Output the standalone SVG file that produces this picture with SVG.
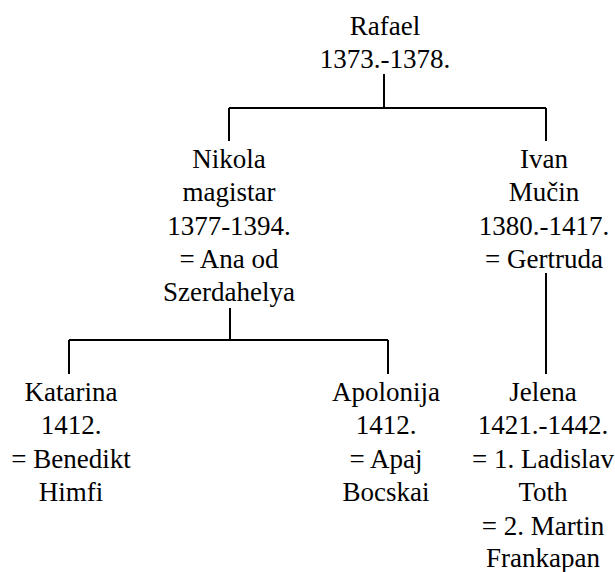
<svg xmlns="http://www.w3.org/2000/svg" width="615" height="572" viewBox="0 0 615 572">
<rect width="615" height="572" fill="#fff"/>
<g id="connectors" stroke="#000" stroke-width="2" fill="none">
<path d="M384,74V108M229,108H546M229,108V141M546,108V141"/>
<path d="M230,308V340M69,340H388M69,340V374M388,340V374"/>
<path d="M546,273V374"/>
</g>
<g id="rafael"><text x="385" y="35" font-size="27" font-family="Liberation Serif" text-anchor="middle">Rafael</text><text x="385" y="68.3" font-size="27" font-family="Liberation Serif" text-anchor="middle">1373.-1378.</text></g>
<g id="nikola"><text x="229" y="167.5" font-size="27" font-family="Liberation Serif" text-anchor="middle">Nikola</text><text x="229" y="201" font-size="27" font-family="Liberation Serif" text-anchor="middle">magistar</text><text x="229" y="234.5" font-size="27" font-family="Liberation Serif" text-anchor="middle">1377-1394.</text><text x="229" y="268" font-size="27" font-family="Liberation Serif" text-anchor="middle">= Ana od</text><text x="229" y="301" font-size="27" font-family="Liberation Serif" text-anchor="middle">Szerdahelya</text></g>
<g id="ivan"><text x="544" y="167.5" font-size="27" font-family="Liberation Serif" text-anchor="middle">Ivan</text><text x="544" y="201" font-size="27" font-family="Liberation Serif" text-anchor="middle">Mu&#x10D;in</text><text x="544" y="234.5" font-size="27" font-family="Liberation Serif" text-anchor="middle">1380.-1417.</text><text x="544" y="268" font-size="27" font-family="Liberation Serif" text-anchor="middle">= Gertruda</text></g>
<g id="katarina"><text x="71" y="401" font-size="27" font-family="Liberation Serif" text-anchor="middle">Katarina</text><text x="71" y="434" font-size="27" font-family="Liberation Serif" text-anchor="middle">1412.</text><text x="71" y="467.5" font-size="27" font-family="Liberation Serif" text-anchor="middle">= Benedikt</text><text x="71" y="500.5" font-size="27" font-family="Liberation Serif" text-anchor="middle">Himfi</text></g>
<g id="apolonija"><text x="386" y="401" font-size="27" font-family="Liberation Serif" text-anchor="middle">Apolonija</text><text x="386" y="434" font-size="27" font-family="Liberation Serif" text-anchor="middle">1412.</text><text x="386" y="467.5" font-size="27" font-family="Liberation Serif" text-anchor="middle">= Apaj</text><text x="386" y="500.5" font-size="27" font-family="Liberation Serif" text-anchor="middle">Bocskai</text></g>
<g id="jelena"><text x="543" y="401" font-size="27" font-family="Liberation Serif" text-anchor="middle">Jelena</text><text x="543" y="434" font-size="27" font-family="Liberation Serif" text-anchor="middle">1421.-1442.</text><text x="543" y="467.5" font-size="27" font-family="Liberation Serif" text-anchor="middle">= 1. Ladislav</text><text x="543" y="501" font-size="27" font-family="Liberation Serif" text-anchor="middle">Toth</text><text x="543" y="534.5" font-size="27" font-family="Liberation Serif" text-anchor="middle">= 2. Martin</text><text x="543" y="567" font-size="27" font-family="Liberation Serif" text-anchor="middle">Frankapan</text></g>
</svg>
